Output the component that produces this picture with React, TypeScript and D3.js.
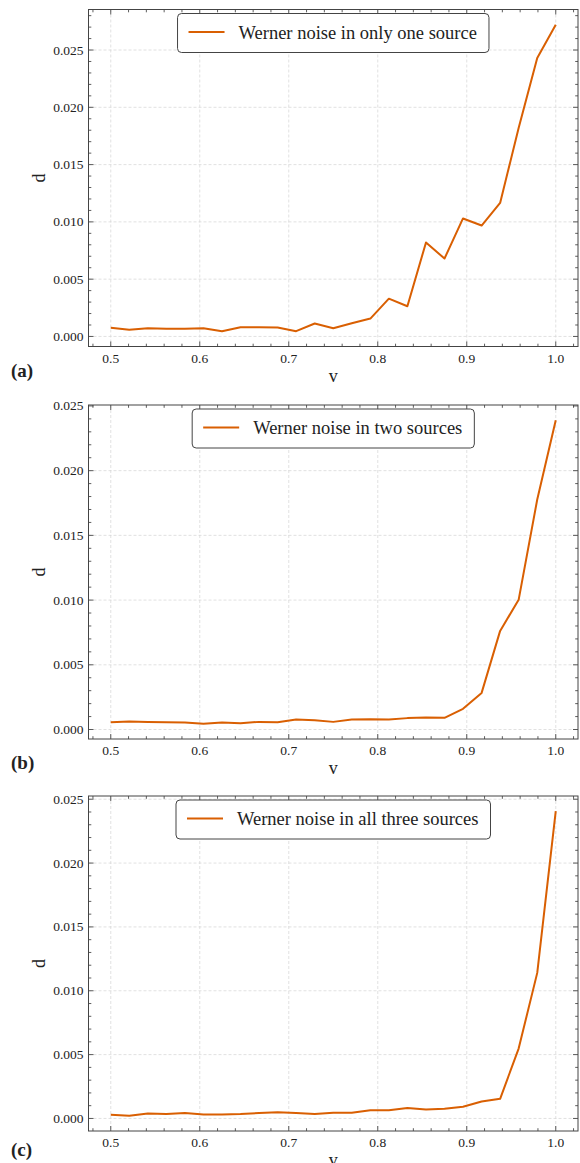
import React, { useRef, useEffect } from 'react';
import * as d3 from 'd3';

// visibility v (shared x values)
const vValues = [
  0.5, 0.5208, 0.5417, 0.5625, 0.5833, 0.6042, 0.625, 0.6458, 0.6667, 0.6875,
  0.7083, 0.7292, 0.75, 0.7708, 0.7917, 0.8125, 0.8333, 0.8542, 0.875, 0.8958,
  0.9167, 0.9375, 0.9583, 0.9792, 1.0,
];

const dOneSource = [
  0.00075, 0.00058, 0.00072, 0.00067, 0.00067, 0.00072, 0.00046, 0.00081, 0.00081, 0.00078,
  0.00046, 0.00113, 0.00072, 0.00115, 0.00156, 0.0033, 0.00264, 0.0082, 0.0068, 0.0103,
  0.00968, 0.01165, 0.0182, 0.0243, 0.0272,
];

const dTwoSources = [
  0.00057, 0.00062, 0.00059, 0.00057, 0.00054, 0.00044, 0.00054, 0.00049, 0.00059, 0.00057,
  0.00077, 0.00072, 0.00059, 0.00077, 0.0008, 0.00077, 0.00088, 0.00093, 0.0009, 0.0016,
  0.00283, 0.00762, 0.01002, 0.01777, 0.0239,
];

const dThreeSources = [
  0.00029, 0.00021, 0.00039, 0.00034, 0.00042, 0.00031, 0.00031, 0.00034, 0.00042, 0.00049,
  0.00042, 0.00034, 0.00044, 0.00044, 0.00065, 0.00065, 0.00081, 0.0007, 0.00076, 0.00091,
  0.00133, 0.00154, 0.00547, 0.0114, 0.02406,
];

const legendLabels = [
  'Werner noise in only one source',
  'Werner noise in two sources',
  'Werner noise in all three sources',
];
const panelTags = ['(a)', '(b)', '(c)'];
const xTicks = [0.5, 0.6, 0.7, 0.8, 0.9, 1.0];
const yTicks = [0, 0.005, 0.01, 0.015, 0.02, 0.025];

const W = 580;
const H = 1163;
const lineColor = '#d95f02';
const font = "'Liberation Serif', 'DejaVu Serif', serif";

const App = () => {
  const svgRef = useRef<SVGSVGElement>(null);

  useEffect(() => {
    const svg = d3.select(svgRef.current);
    svg.selectAll('*').remove();

    const series = [dOneSource, dTwoSources, dThreeSources];
    const tops = [9.5, 405, 796];
    const heights = [337, 334, 335];
    const tagOffsets = [30, 30, 25];
    const left = 88.5;
    const right = 578;

    series.forEach((vals, p) => {
      const top = tops[p];
      const plotH = heights[p];
      const bottom = top + plotH;

      const xScale = d3.scaleLinear().domain([0.475, 1.025]).range([left, right]);
      const [lo, hi] = d3.extent(vals) as [number, number];
      const pad = (hi - lo) * 0.05;
      const yScale = d3.scaleLinear().domain([lo - pad, hi + pad]).range([bottom, top]);

      const g = svg.append('g');

      // grid
      g.selectAll('.gx').data(xTicks).enter().append('line')
        .attr('x1', d => xScale(d)).attr('x2', d => xScale(d))
        .attr('y1', top).attr('y2', bottom)
        .attr('stroke', '#d4d4d4').attr('stroke-width', 0.7)
        .attr('stroke-dasharray', '3,2');
      g.selectAll('.gy').data(yTicks.filter(t => yScale(t) > top + 1)).enter().append('line')
        .attr('x1', left).attr('x2', right)
        .attr('y1', d => yScale(d)).attr('y2', d => yScale(d))
        .attr('stroke', '#d4d4d4').attr('stroke-width', 0.7)
        .attr('stroke-dasharray', '3,2');

      // ticks inside, all four sides
      const xMinor = d3.range(0.48, 1.025, 0.02).filter(t => Math.abs(t * 10 - Math.round(t * 10)) > 0.01);
      const yMinor = d3.range(-0.002, 0.03, 0.001)
        .filter(t => yScale(t) >= top && yScale(t) <= bottom)
        .filter(t => Math.abs(t * 200 - Math.round(t * 200)) > 0.01);
      const tickCol = '#333';
      const drawX = (ticks: number[], len: number) => {
        ticks.forEach(t => {
          const x = xScale(t);
          g.append('line').attr('x1', x).attr('x2', x).attr('y1', bottom).attr('y2', bottom - len)
            .attr('stroke', tickCol).attr('stroke-width', 0.8);
          g.append('line').attr('x1', x).attr('x2', x).attr('y1', top).attr('y2', top + len)
            .attr('stroke', tickCol).attr('stroke-width', 0.8);
        });
      };
      const drawY = (ticks: number[], len: number) => {
        ticks.forEach(t => {
          const y = yScale(t);
          g.append('line').attr('x1', left).attr('x2', left + len).attr('y1', y).attr('y2', y)
            .attr('stroke', tickCol).attr('stroke-width', 0.8);
          g.append('line').attr('x1', right).attr('x2', right - len).attr('y1', y).attr('y2', y)
            .attr('stroke', tickCol).attr('stroke-width', 0.8);
        });
      };
      drawX(xTicks, 5);
      drawX(xMinor, 2.8);
      drawY(yTicks.filter(t => yScale(t) >= top - 0.5), 5);
      drawY(yMinor, 2.8);

      // tick labels
      g.selectAll('.xl').data(xTicks).enter().append('text')
        .attr('x', d => xScale(d)).attr('y', bottom + 16)
        .attr('text-anchor', 'middle')
        .attr('font-family', font).attr('font-size', 13.5).attr('fill', '#222')
        .text(d => d3.format('.1f')(d));
      g.selectAll('.yl').data(yTicks.filter(t => yScale(t) >= top - 0.5)).enter().append('text')
        .attr('x', left - 5).attr('y', d => yScale(d) + 4.5)
        .attr('text-anchor', 'end')
        .attr('font-family', font).attr('font-size', 13.5).attr('fill', '#222')
        .text(d => d3.format('.3f')(d));

      // axis labels
      g.append('text')
        .attr('x', (left + right) / 2).attr('y', bottom + 35)
        .attr('text-anchor', 'middle')
        .attr('font-family', font).attr('font-size', 18).attr('fill', '#222')
        .text('v');
      g.append('text')
        .attr('transform', `translate(45,${(top + bottom) / 2}) rotate(-90)`)
        .attr('text-anchor', 'middle')
        .attr('font-family', font).attr('font-size', 18).attr('fill', '#222')
        .text('d');
      g.append('text')
        .attr('x', 11).attr('y', bottom + tagOffsets[p])
        .attr('font-family', font).attr('font-size', 19).attr('font-weight', 'bold').attr('fill', '#222')
        .text(panelTags[p]);

      // data line
      const line = d3.line<number>()
        .x((_, i) => xScale(vValues[i]))
        .y(d => yScale(d));
      g.append('path')
        .datum(vals)
        .attr('d', line)
        .attr('fill', 'none')
        .attr('stroke', lineColor)
        .attr('stroke-width', 2)
        .attr('stroke-linejoin', 'round');

      // frame
      g.append('rect')
        .attr('x', left).attr('y', top)
        .attr('width', right - left).attr('height', plotH)
        .attr('fill', 'none').attr('stroke', '#444').attr('stroke-width', 1);

      // legend (upper center)
      const lg = g.append('g');
      const txt = lg.append('text')
        .attr('font-family', font).attr('font-size', 18.5).attr('fill', '#222')
        .text(legendLabels[p]);
      const tw = (txt.node() as SVGTextElement).getComputedTextLength();
      const boxW = 11 + 36 + 14 + tw + 12;
      const boxH = 39;
      const bx = (left + right) / 2 - boxW / 2;
      const by = top + 4;
      lg.insert('rect', 'text')
        .attr('x', bx).attr('y', by).attr('width', boxW).attr('height', boxH)
        .attr('rx', 4).attr('ry', 4)
        .attr('fill', '#fff').attr('stroke', '#444').attr('stroke-width', 1);
      lg.insert('line', 'text')
        .attr('x1', bx + 11).attr('x2', bx + 47)
        .attr('y1', by + boxH / 2 - 1).attr('y2', by + boxH / 2 - 1)
        .attr('stroke', lineColor).attr('stroke-width', 2);
      txt.attr('x', bx + 61).attr('y', by + boxH / 2 + 5.5);
    });
  }, []);

  return (
    <svg ref={svgRef} width={W} height={H}
      style={{ position: 'absolute', left: 0, top: 0, background: '#fff' }} />
  );
};

export default App;
